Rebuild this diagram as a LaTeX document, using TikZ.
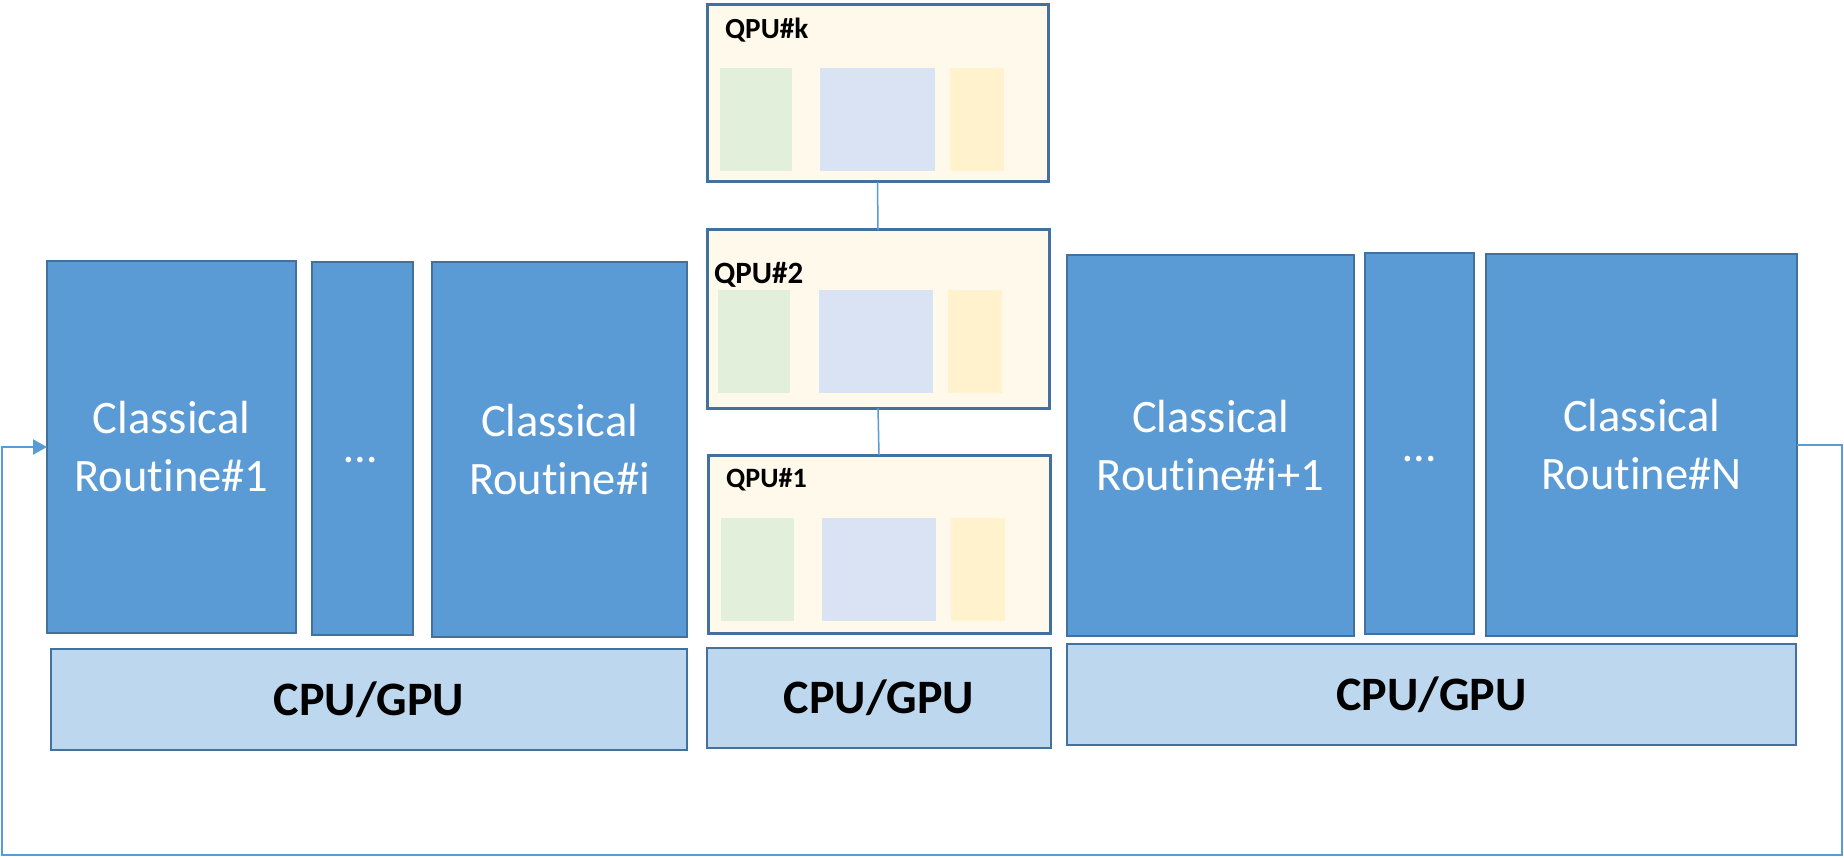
\documentclass[tikz,border=0pt]{standalone}
\usepackage{fontspec}
\setmainfont{Carlito}[RawFeature={-liga;-clig;-calt;-dlig}]
\usetikzlibrary{arrows.meta}

\definecolor{routinefill}{HTML}{5B9BD5}
\definecolor{boxedge}{HTML}{41719C}
\definecolor{cpufill}{HTML}{BDD7EE}
\definecolor{qpufill}{HTML}{FFF9EC}
\definecolor{qgreen}{HTML}{E2EFDA}
\definecolor{qblue}{HTML}{DAE3F3}
\definecolor{qyellow}{HTML}{FFF2CC}
\definecolor{linkblue}{HTML}{5B9BD5}

\tikzset{
  box/.style args={#1x#2}{rectangle, minimum width=#1pt, minimum height=#2pt,
    inner sep=0pt, outer sep=0pt},
  routine/.style={box=#1, fill=routinefill, draw=boxedge, line width=2pt,
    text=white, align=center, font=\fontsize{46.5}{58}\selectfont},
  cpu/.style={box=#1, fill=cpufill, draw=boxedge, line width=2.5pt,
    font=\fontsize{48}{58}\bfseries\selectfont},
  qpu/.style={box=#1, fill=qpufill, draw=boxedge, line width=3pt},
  qlabel/.style={anchor=base west, inner sep=0pt, font=\bfseries\fontsize{#1}{#1}\selectfont},
  dotslabel/.style={anchor=base, inner sep=0pt, text=white, font=\fontsize{46.5}{58}\selectfont},
  link/.style={draw=linkblue, line width=1.5pt},
  feedback/.style={draw=linkblue, line width=2.2pt, -{Triangle[length=14pt,width=15pt]}},
}

\begin{document}
\begin{tikzpicture}[x=1pt,y=-1pt]
\useasboundingbox (0,0) rectangle (1844,858);

% classical routines, left group
\node[routine=249x372] (r1) at (171.5,447) {Classical\\Routine\#1};
\node[routine=101x373] (d1) at (362.5,448.5) {};
\node[dotslabel] (d1t) at (361,462) {…};
\node[routine=255x375] (ri) at (559.5,449.5) {Classical\\Routine\#i};
\node[cpu=636x101] (cpuL) at (369,699.5) {CPU/GPU};

% quantum processing units
\node[qpu=341x177] (qk) at (877.5,93.5) {};
\node[qpu=342x178] (q2) at (878,319) {};
\node[qpu=342x178] (q1) at (879,544) {};
\node[cpu=344x100] (cpuM) at (879,698) {CPU/GPU};

\fill[qgreen]  (720,68) rectangle (792,171);
\fill[qblue]   (820,68) rectangle (935,171);
\fill[qyellow] (950,68) rectangle (1004,171);
\fill[qgreen]  (718,290) rectangle (790,393);
\fill[qblue]   (819,290) rectangle (933,393);
\fill[qyellow] (948,290) rectangle (1002,393);
\fill[qgreen]  (721,518) rectangle (794,621);
\fill[qblue]   (822,518) rectangle (936,621);
\fill[qyellow] (951,518) rectangle (1005,621);

\node[qlabel=29.2] (qkt) at (725,39) {QPU\#k};
\node[qlabel=31] (q2t) at (714,284) {QPU\#2};
\node[qlabel=28] (q1t) at (726,487) {QPU\#1};

\draw[link] (qk.south) -- (q2.north);
\draw[link] (q2.south) -- (q1.north);

% classical routines, right group
\node[routine=287x381] (ri1) at (1210.5,445.5) {Classical\\Routine\#i+1};
\node[routine=109x381] (d2) at (1419.5,443.5) {};
\node[dotslabel] (d2t) at (1420,461) {…};
\node[routine=311x382] (rN) at (1641.5,445) {Classical\\Routine\#N};
\node[cpu=729x101] (cpuR) at (1431.5,694.5) {CPU/GPU};

% feedback loop from the last routine back to the first
\coordinate (fbA) at (1842,445);
\coordinate (fbB) at (1842,855);
\coordinate (fbC) at (2,855);
\coordinate (fbD) at (2,447);
\draw[feedback] (rN.east) -- (fbA) -- (fbB) -- (fbC) -- (fbD) -- (r1.west);
\end{tikzpicture}
\end{document}
